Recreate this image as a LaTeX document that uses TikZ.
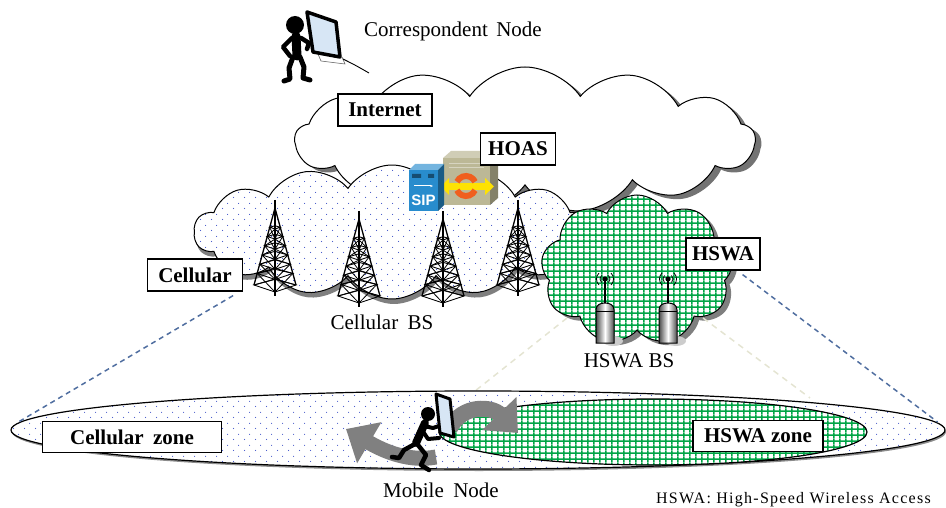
\documentclass[tikz,border=0pt]{standalone}
\usepackage{fontspec}
\setmainfont{Liberation Serif}
\newfontfamily\sipfont{Liberation Sans}
\usetikzlibrary{shapes.geometric,shapes.symbols,shadows,patterns.meta,arrows.meta}

\definecolor{dotblue}{RGB}{60,80,200}
\definecolor{gridgreen}{RGB}{0,165,70}
\definecolor{dashblue}{RGB}{80,110,160}
\definecolor{faintline}{RGB}{228,228,210}
\definecolor{arrowgray}{RGB}{128,128,128}
\definecolor{sipblue}{RGB}{40,140,205}
\definecolor{servbeige}{RGB}{188,184,150}
\definecolor{ringorange}{RGB}{240,95,30}
\definecolor{screenblue}{RGB}{215,230,245}

% sparse staggered blue dots
\tikzdeclarepattern{
  name=celldots,
  type=colored,
  bounding box={(0pt,0pt) and (11pt,11pt)},
  tile size={(11pt,11pt)},
  code={
    \fill[dotblue] (2.75pt,2.75pt) circle (0.6pt);
    \fill[dotblue] (8.25pt,8.25pt) circle (0.6pt);
  }
}
% fine green grid
\tikzdeclarepattern{
  name=wgrid,
  type=colored,
  bounding box={(0pt,0pt) and (5.8pt,5.8pt)},
  tile size={(5.8pt,5.8pt)},
  code={
    \draw[gridgreen, line width=1.5pt] (0pt,2.9pt) -- (5.8pt,2.9pt) (2.9pt,0pt) -- (2.9pt,5.8pt);
  }
}

\tikzset{
  lbl/.style={draw=black, line width=1.2pt, fill=white, inner sep=0pt,
    minimum height=32pt, font=\fontsize{21}{24}\selectfont\bfseries},
  caption/.style={inner sep=0pt, font=\fontsize{21}{24}\selectfont},
  cloudbase/.style={cloud, cloud ignores aspect, cloud puff arc=112, draw=black, line width=1pt},
  zonedash/.style={dashblue, line width=1.5pt, dash pattern=on 5pt off 4pt},
  faintdash/.style={faintline, line width=1.5pt, dash pattern=on 6pt off 5pt},
  bigarrow/.style={arrowgray, line width=15pt},
  figure/.style={line cap=round, line join=round},
  pics/lattice/.style={code={
    \draw[line width=1.5pt] (0,-8) -- (0,88);
    \draw[line width=1.3pt] (0,0) -- (-21,77) (0,0) -- (21,77);
    \foreach \t in {0.25,0.37,0.49,0.61,0.73,0.85,1.0} {
      \draw[line width=0.9pt] (-21*\t,77*\t) -- (0,84*\t) -- (21*\t,77*\t) -- (0,71*\t) -- cycle;
    }
    \foreach \a/\b in {0.25/0.37,0.37/0.49,0.49/0.61,0.61/0.73,0.73/0.85,0.85/1.0} {
      \draw[line width=0.8pt] (-21*\a,77*\a) -- (0,84*\b) (0,84*\a) -- (-21*\b,77*\b)
        (21*\a,77*\a) -- (0,84*\b) (0,84*\a) -- (21*\b,77*\b);
    }
  }},
  pics/antenna/.style={code={
    \fill[black!20] (8,62) ellipse (10pt and 5pt);
    \draw[line width=1.4pt] (0,0) -- (0,24);
    \fill (0,0) circle (2.6);
    \foreach \r in {5,8.5} {
      \draw[line width=0.8pt] (0,0) ++(-45:\r) arc (-45:45:\r);
      \draw[line width=0.8pt] (0,0) ++(135:\r) arc (135:225:\r);
    }
    \draw[line width=1pt, left color=black!70, right color=black!70, middle color=white]
      (-9,64) -- (-9,31) .. controls (-9,26) and (-5,24) .. (0,24)
      .. controls (5,24) and (9,26) .. (9,31) -- (9,64) -- cycle;
    \draw[line width=0.8pt] (-9,32) -- (9,32);
  }}
}

\begin{document}
\begin{tikzpicture}[x=1pt,y=-1pt]
\useasboundingbox (0,0) rectangle (946,508);

% ---------- clouds ----------
\node[cloudbase, cloud puffs=13, minimum width=460pt, minimum height=146pt,
  drop shadow={shadow xshift=6pt, shadow yshift=-4pt, fill=black, opacity=0.55},
  fill=white] (inet) at (525,140) {};

\node[cloudbase, cloud puffs=14, minimum width=396pt, minimum height=134pt,
  drop shadow={shadow xshift=2pt, shadow yshift=-5pt, fill=black, opacity=0.5},
  preaction={fill=white}, pattern=celldots] (cell) at (392,232) {};

\node[cloudbase, cloud puffs=9, cloud puff arc=125, minimum width=192pt, minimum height=150pt,
  drop shadow={shadow xshift=5pt, shadow yshift=-4pt, fill=black, opacity=0.5},
  preaction={fill=white}, pattern=wgrid] (hswa) at (637,270) {};

% ---------- correspondent node ----------
\fill (295,25) circle (9);
\draw[figure, line width=9pt] (296,36) -- (297,56);
\draw[figure, line width=4.5pt] (292,38) -- (283,47) -- (290,56);
\draw[figure, line width=4.5pt] (301,38) -- (309,43) -- (307,49);
\draw[figure, line width=5pt] (293,57) -- (289,68) -- (290,79) -- (284,81);
\draw[figure, line width=5pt] (300,57) -- (304,67) -- (303,78) -- (310,80);
\draw[black!60, line width=0.6pt] (318,54) -- (321,61) -- (345,64) -- (342,57);
\filldraw[fill=screenblue, draw=black, line width=3.5pt, line join=round]
  (307,12) -- (336,22) -- (340,57) -- (313,52) -- cycle;
\coordinate (cnpc) at (343,59);
\coordinate (cable) at (369,73);
\draw[line width=0.9pt] (cnpc) .. controls (355,65) .. (cable);
\node[caption] (cnlabel) at (453,31) {Correspondent\hspace{0.15em} Node};

% ---------- HOAS servers ----------
\fill[servbeige!70!white] (443,158) -- (451,151) -- (498,151) -- (490,158) -- cycle;
\fill[servbeige] (443,158) rectangle (490,205);
\fill[servbeige!70!black] (490,158) -- (498,151) -- (498,198) -- (490,205) -- cycle;
\draw[servbeige!60!white, line width=1pt] (449,164) -- (484,164) (449,168) -- (484,168);
\fill[yellow!85!orange] (449,183) rectangle (485,190);
\fill[yellow!85!orange] (485,178) -- (494,186.5) -- (485,195) -- cycle;
\fill[yellow!85!orange] (449,178) -- (441,186.5) -- (449,195) -- cycle;
\draw[ringorange, line width=6pt] (466,186) ++(25:10) arc (25:155:10);
\draw[ringorange, line width=6pt] (466,186) ++(205:10) arc (205:335:10);

\fill[sipblue!65!white] (409,170) -- (415,164) -- (444,164) -- (438,170) -- cycle;
\fill[sipblue] (409,170) rectangle (438,211);
\fill[sipblue!65!black] (438,170) -- (444,164) -- (444,205) -- (438,211) -- cycle;
\fill[sipblue!55!black] (412,174) rectangle (421,178) (428,174) rectangle (434,178);
\draw[white, line width=1pt, -{Stealth[length=3pt]}] (414,186) -- (433,186);
\node[font=\sipfont\bfseries\fontsize{15}{15}\selectfont, text=white, inner sep=0pt]
  (sip) at (423.5,200) {SIP};

% ---------- base stations ----------
\pic (tw1) at (275,208) {lattice};
\pic (tw2) at (359,219) {lattice};
\pic (tw3) at (443,219) {lattice};
\pic (tw4) at (518,208) {lattice};
\pic (ap1) at (605,279) {antenna};
\pic (ap2) at (668,279) {antenna};

% ---------- labels ----------
\node[lbl, minimum width=94pt] (inetlbl) at (385,110) {Internet};
\node[lbl, minimum width=75pt] (hoaslbl) at (518,149) {HOAS};
\node[lbl, minimum width=95pt] (celllbl) at (195,275) {Cellular};
\node[lbl, minimum width=74pt] (hswalbl) at (723,254) {HSWA};
\node[caption] (cbs) at (382,322) {Cellular\hspace{0.2em} BS};
\node[caption] (hbs) at (629,361) {HSWA BS};

% ---------- coverage zones ----------
\coordinate (fl1) at (567,318);
\coordinate (fl2) at (703,318);
\draw[faintdash] (fl1) -- (470,395);
\draw[faintdash] (fl2) -- (810,398);

\node[ellipse, draw=black, line width=1.2pt, minimum width=934pt, minimum height=78pt,
  drop shadow={shadow xshift=1pt, shadow yshift=-2pt, fill=black, opacity=0.45},
  preaction={fill=white}, pattern=celldots] (cover) at (478,430) {};
\node[ellipse, draw=black, line width=1.2pt, minimum width=428pt, minimum height=66pt,
  preaction={fill=white}, pattern=wgrid] (hzone) at (653,432) {};

\draw[zonedash] ([shift={(-10,4)}]celllbl.south east) -- ([shift={(8,-8)}]cover.west);
\draw[zonedash] ([shift={(-18,4)}]hswalbl.south east) -- ([shift={(-8,-8)}]cover.east);

\node[lbl, minimum width=179pt, minimum height=31pt] (czone) at (132,437) {Cellular\hspace{0.2em} zone};
\node[lbl, minimum width=130pt, minimum height=31pt] (hzlbl) at (758,436) {HSWA zone};

% ---------- handover arrows ----------
\draw[bigarrow, -{Triangle[width=46pt,length=27pt]}]
  (436,457) .. controls (410,462) and (385,452) .. (346,429);
\draw[bigarrow, line width=16pt, -{Triangle[width=46pt,length=27pt]}]
  (450,428) .. controls (462,404) and (492,406) .. (518,433);

% ---------- mobile node ----------
\fill (428,414) circle (7);
\draw[figure, line width=8pt] (425,423) -- (416,443);
\draw[figure, line width=4pt] (424,426) -- (433,428) -- (439,426);
\draw[figure, line width=4pt] (422,430) -- (428,439) -- (439,438);
\draw[figure, line width=4.5pt] (415,444) -- (404,450) -- (399,458) -- (392,457);
\draw[figure, line width=4.5pt] (418,445) -- (426,455) -- (421,465) -- (429,470);
\filldraw[fill=screenblue, draw=black, line width=3pt, line join=round]
  (436,394) -- (450,399) -- (454,437) -- (440,433) -- cycle;
\node[caption] (mn) at (441,490) {Mobile\hspace{0.2em} Node};

\node[anchor=east, inner sep=0pt,
  font=\fontsize{16}{18}\selectfont\addfontfeature{LetterSpace=8}] (legend) at (931,500)
  {HSWA: High-Speed Wireless Access};
\end{tikzpicture}
\end{document}
